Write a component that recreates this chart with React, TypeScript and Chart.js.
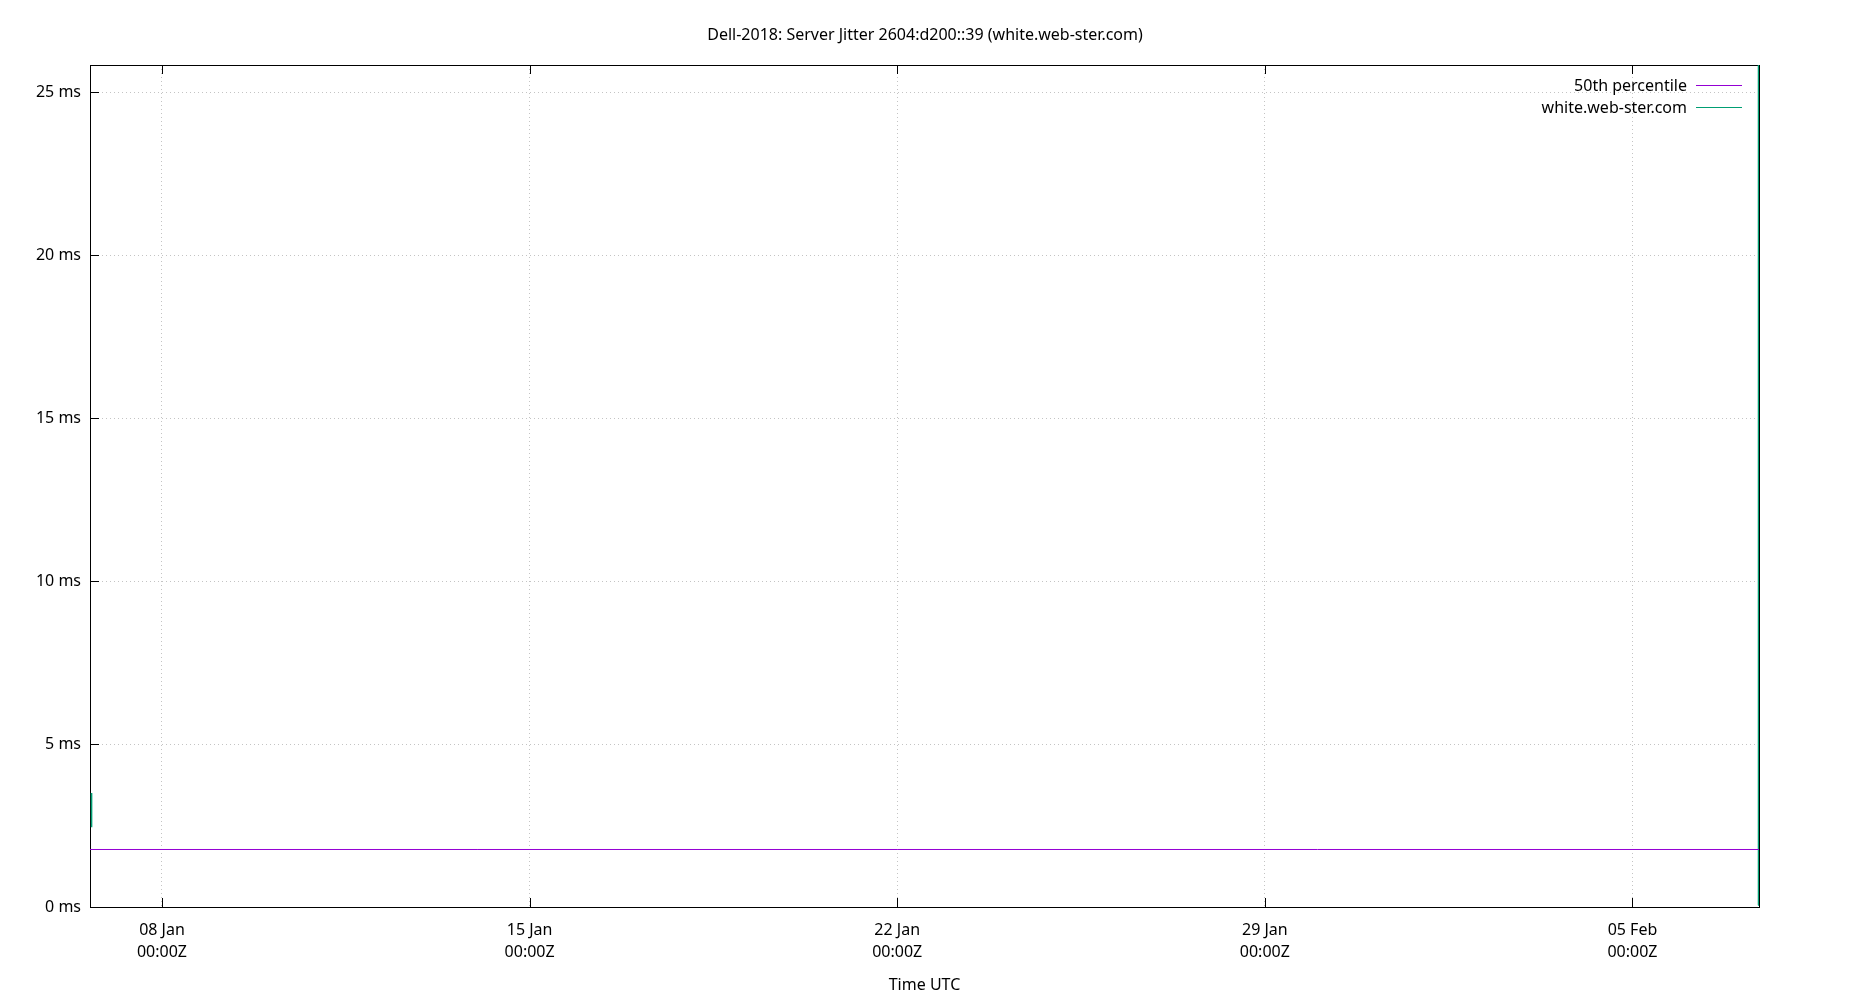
import * as React from 'react';
import {useEffect, useRef} from 'react';
import {Chart, registerables} from 'chart.js';

Chart.register(...registerables);

const TITLE = 'Dell-2018: Server Jitter 2604:d200::39 (white.web-ster.com)';
const X_TITLE = 'Time UTC';

const SERIES_NAMES = ['50th percentile', 'white.web-ster.com'];
const SERIES_COLORS = ['#9400d3', '#009e73'];

// 50th percentile, flat over the whole range
const MEDIAN_TIMES = ['2019-01-06T15:06Z', '2019-01-14T00:00Z', '2019-01-22T00:00Z', '2019-01-30T00:00Z', '2019-02-07T09:50Z'];
const MEDIAN_MS = [1.764, 1.764, 1.764, 1.764, 1.764];

// server samples: a short run at the start, a spike at the very end
const SERVER_TIMES = ['2019-01-06T15:45Z', '2019-01-06T15:50Z', '2019-01-22T00:00Z', '2019-02-07T09:30Z', '2019-02-07T09:36Z'];
const SERVER_MS = [3.5, 2.45, null, 0.05, 60];

const X_TICKS = ['2019-01-08', '2019-01-15', '2019-01-22', '2019-01-29', '2019-02-05'];
const Y_TICKS = [0, 5, 10, 15, 20, 25];
const Y_MAX = 25.83;

const MONTHS = ['Jan', 'Feb', 'Mar', 'Apr', 'May', 'Jun', 'Jul', 'Aug', 'Sep', 'Oct', 'Nov', 'Dec'];
const FONT = '"Noto Sans", sans-serif';

const pad2 = n => String(n).padStart(2, '0');

const fmtTick = v => {
  const d = new Date(v);
  return [
    `${pad2(d.getUTCDate())} ${MONTHS[d.getUTCMonth()]}`,
    `${pad2(d.getUTCHours())}:${pad2(d.getUTCMinutes())}Z`
  ];
};

// gnuplot-style frame, inward ticks, title and legend
const gnuplotFrame = {
  id: 'gnuplotFrame',
  beforeDatasetsDraw(chart) {
    const {ctx, chartArea: a, scales} = chart;
    ctx.save();
    ctx.strokeStyle = '#000';
    ctx.lineWidth = 1;
    ctx.beginPath();
    scales.x.ticks.forEach(t => {
      const px = Math.round(scales.x.getPixelForValue(t.value)) + 0.5;
      ctx.moveTo(px, a.bottom);
      ctx.lineTo(px, a.bottom - 9);
      ctx.moveTo(px, a.top);
      ctx.lineTo(px, a.top + 9);
    });
    scales.y.ticks.forEach(t => {
      const py = Math.round(scales.y.getPixelForValue(t.value)) + 0.5;
      ctx.moveTo(a.left, py);
      ctx.lineTo(a.left + 9, py);
    });
    ctx.stroke();
    ctx.strokeRect(a.left + 0.5, a.top + 0.5, a.right - a.left, a.bottom - a.top);
    ctx.restore();
  },
  afterDraw(chart) {
    const {ctx, chartArea: a} = chart;
    ctx.save();
    ctx.fillStyle = '#000';
    ctx.textBaseline = 'middle';
    ctx.textAlign = 'center';
    ctx.font = `16px ${FONT}`;
    ctx.fillText(TITLE, 925, 35);

    ctx.textAlign = 'right';
    SERIES_NAMES.forEach((name, i) => {
      const y = a.top + 21 + i * 22;
      ctx.fillStyle = '#000';
      ctx.fillText(name, a.right - 72, y);
      ctx.strokeStyle = SERIES_COLORS[i];
      ctx.lineWidth = 1;
      ctx.beginPath();
      ctx.moveTo(a.right - 63, y - 0.5);
      ctx.lineTo(a.right - 17, y - 0.5);
      ctx.stroke();
    });
    ctx.restore();
  }
};

const toPoints = (times, values) => times.map((t, i) => ({x: Date.parse(t), y: values[i]}));

const chartConfig = (): any => ({
  type: 'line',
  data: {
    datasets: [
      {
        label: SERIES_NAMES[0],
        data: toPoints(MEDIAN_TIMES, MEDIAN_MS),
        borderColor: SERIES_COLORS[0],
        borderWidth: 1,
        pointRadius: 0,
        tension: 0
      },
      {
        label: SERIES_NAMES[1],
        data: toPoints(SERVER_TIMES, SERVER_MS),
        borderColor: SERIES_COLORS[1],
        borderWidth: 1.5,
        pointRadius: 0,
        tension: 0,
        spanGaps: false
      }
    ]
  },
  options: {
    animation: false,
    responsive: true,
    maintainAspectRatio: false,
    layout: {padding: {top: 65, right: 91, bottom: 0, left: 0}},
    plugins: {
      legend: {display: false},
      title: {display: false},
      tooltip: {enabled: false}
    },
    scales: {
      x: {
        type: 'linear',
        min: Date.parse(MEDIAN_TIMES[0]),
        max: Date.parse(MEDIAN_TIMES[MEDIAN_TIMES.length - 1]),
        afterBuildTicks: scale => {
          scale.ticks = X_TICKS.map(d => ({value: Date.parse(d)}));
        },
        afterFit: scale => {
          scale.height = 93;
        },
        ticks: {
          autoSkip: false,
          maxRotation: 0,
          padding: 13,
          color: '#000',
          font: {family: FONT, size: 16, lineHeight: 1.35},
          callback: v => fmtTick(v)
        },
        grid: {color: '#c4c4c4', lineWidth: 1, drawTicks: false},
        border: {display: false, dash: [1, 3]},
        title: {
          display: true,
          text: X_TITLE,
          color: '#000',
          font: {family: FONT, size: 16},
          padding: {top: 0, bottom: 5}
        }
      },
      y: {
        type: 'linear',
        min: 0,
        max: Y_MAX,
        afterBuildTicks: scale => {
          scale.ticks = Y_TICKS.map(v => ({value: v}));
        },
        afterFit: scale => {
          scale.width = 90;
        },
        ticks: {
          padding: 9,
          color: '#000',
          font: {family: FONT, size: 16},
          callback: v => `${v} ms`
        },
        grid: {color: '#c4c4c4', lineWidth: 1, drawTicks: false},
        border: {display: false, dash: [1, 3]}
      }
    }
  },
  plugins: [gnuplotFrame]
});

export default function App() {
  const canvasRef = useRef(null);

  useEffect(() => {
    const chart = new Chart(canvasRef.current, chartConfig());
    return () => {
      chart.destroy();
    };
  }, []);

  return <div style={{position: 'absolute', left: 0, top: 0, width: 1850, height: 1000, background: '#fff'}}>
    <canvas ref={canvasRef} />
  </div>;
}
